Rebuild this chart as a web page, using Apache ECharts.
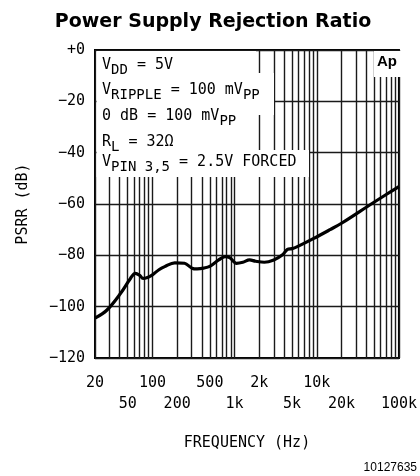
<!DOCTYPE html>
<html>
<head>
<meta charset="utf-8">
<script src="https://cdn.jsdelivr.net/npm/echarts@6/dist/echarts.min.js"></script>
<style>html,body{margin:0;padding:0;background:#fff}#c{width:420px;height:476px}</style>
</head>
<body>
<div id="c"></div>
<script>
// ---- data ----
const freqs = [20, 28, 41, 54, 62, 70, 77, 87, 99, 120, 141, 187, 246, 303, 350, 420, 505, 640, 766, 870, 960, 1050, 1260, 1520, 1800, 2300, 3000, 3800, 4400, 5000, 5800, 9200, 14500, 20000, 46000, 70000, 100000];
const psrr = [-104.5, -101.3, -94.8, -89.0, -87.0, -87.8, -89.0, -88.6, -87.7, -85.6, -84.4, -82.9, -83.1, -85.0, -85.3, -85.0, -84.2, -81.8, -80.5, -80.9, -82.2, -83.1, -82.7, -81.8, -82.3, -82.7, -81.8, -79.9, -77.7, -77.4, -76.6, -73.4, -70.0, -67.5, -60.0, -56.3, -53.2];
const gridFreqs = [20, 30, 40, 50, 60, 70, 80, 90, 100, 200, 300, 400, 500, 600, 700, 800, 900, 1000, 2000, 3000, 4000, 5000, 6000, 7000, 8000, 9000, 10000, 20000, 30000, 40000, 50000, 60000, 70000, 80000, 90000, 100000];
const labelFreqs = [20, 50, 100, 200, 500, 1000, 2000, 5000, 10000, 20000, 50000, 100000];
const labelTexts = ['20', '50', '100', '200', '500', '1k', '2k', '5k', '10k', '20k', '50k', '100k'];
const lowerRow = ['50', '200', '1k', '5k', '20k', '100k'];

const MONO = '"DejaVu Sans Mono", monospace';
const chart = echarts.init(document.getElementById('c'), null, {renderer: 'canvas'});

function labelFor(v) {
  let best = 0, bd = Infinity;
  labelFreqs.forEach((f, i) => { const d = Math.abs(Math.log(v / f)); if (d < bd) { bd = d; best = i; } });
  const t = labelTexts[best];
  return lowerRow.indexOf(t) >= 0 ? '\n' + t : t;
}

const sub = {fontFamily: MONO, fontSize: 14, verticalAlign: 'bottom', lineHeight: 15, color: '#000'};
const main = {fontFamily: MONO, fontSize: 15, lineHeight: 24, color: '#000'};
function infoText(y, str) {
  return {type: 'text', left: 102, top: y, z: 6, silent: true,
    style: {text: str, rich: {m: main, s: sub}, fill: '#000', font: '15px ' + MONO}};
}

chart.setOption({
  animation: false,
  title: {text: 'Power Supply Rejection Ratio', left: 208, top: 8, textAlign: 'center',
    textStyle: {fontFamily: '"DejaVu Sans", sans-serif', fontWeight: 'bold', fontSize: 19, color: '#000'}},
  grid: {left: 95, right: 17, top: 50, bottom: 118, show: true, borderColor: '#000', borderWidth: 2, containLabel: false},
  xAxis: {
    type: 'log', min: 20, max: 100000, logBase: 10,
    name: 'FREQUENCY (Hz)', nameLocation: 'middle', nameGap: 78,
    nameTextStyle: {fontFamily: MONO, fontSize: 15, color: '#000'},
    axisLine: {show: false},
    axisTick: {show: false, customValues: gridFreqs},
    splitLine: {show: true, lineStyle: {color: '#1a1a1a', width: 1.4}},
    axisLabel: {customValues: labelFreqs, formatter: labelFor, margin: 15, lineHeight: 21,
      fontFamily: MONO, fontSize: 15, color: '#000', showMinLabel: true, showMaxLabel: true}
  },
  yAxis: {
    type: 'value', min: -120, max: 0, interval: 20,
    name: 'PSRR (dB)', nameLocation: 'middle', nameGap: 64,
    nameTextStyle: {fontFamily: MONO, fontSize: 15, color: '#000'},
    axisLine: {show: false}, axisTick: {show: false},
    splitLine: {show: true, lineStyle: {color: '#1a1a1a', width: 1.4}},
    axisLabel: {margin: 10, fontFamily: MONO, fontSize: 15, color: '#000',
      formatter: v => v === 0 ? '+0' : '\u2212' + Math.abs(v)}
  },
  series: [{
    type: 'line', z: 10, data: freqs.map((f, i) => [f, psrr[i]]),
    showSymbol: false, smooth: 0.35, lineStyle: {color: '#000', width: 3.2}
  }],
  graphic: [
    {type: 'rect', z: 5, silent: true, shape: {x: 96.5, y: 51, width: 159.5, height: 22}, style: {fill: '#fff'}},
    {type: 'rect', z: 5, silent: true, shape: {x: 96.5, y: 73, width: 177.5, height: 42}, style: {fill: '#fff'}},
    {type: 'rect', z: 5, silent: true, shape: {x: 96.5, y: 115, width: 159.5, height: 35}, style: {fill: '#fff'}},
    {type: 'rect', z: 5, silent: true, shape: {x: 96.5, y: 150, width: 212.5, height: 27}, style: {fill: '#fff'}},
    {type: 'rect', z: 5, silent: true, shape: {x: 374, y: 51, width: 28, height: 26}, style: {fill: '#fff'}},
    infoText(57.5, '{m|V}{s|DD}{m| = 5V}'),
    infoText(83, '{m|V}{s|RIPPLE}{m| = 100 mV}{s|PP}'),
    infoText(109, '{m|0 dB = 100 mV}{s|PP}'),
    infoText(135, '{m|R}{s|L}{m| = 32Ω}'),
    infoText(154.5, '{m|V}{s|PIN 3,5}{m| = 2.5V FORCED}'),
    {type: 'text', left: 377, top: 54, z: 6, silent: true,
      style: {text: 'Ap', fill: '#000', font: 'bold 15px "Liberation Sans", Arial, sans-serif'}},
    {type: 'text', right: 3, top: 462, z: 6, silent: true,
      style: {text: '10127635', fill: '#000', font: '12px "Liberation Sans", Arial, sans-serif'}}
  ]
});
</script>
</body>
</html>
